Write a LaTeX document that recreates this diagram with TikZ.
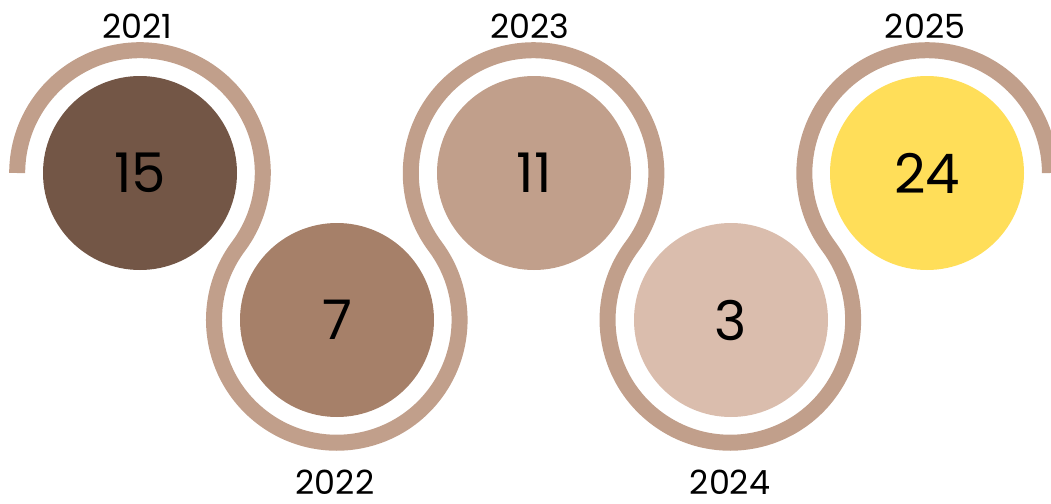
\documentclass[tikz,border=0pt]{standalone}
\usepackage{fontspec}
\setmainfont{Poppins}
\usepackage{tikz}
\usetikzlibrary{positioning,calc}

\definecolor{bandcol}{HTML}{C19F8B}
\definecolor{darkbrown}{HTML}{735646}
\definecolor{midbrown}{HTML}{A68069}
\definecolor{lightbrown}{HTML}{C19F8B}
\definecolor{sandbrown}{HTML}{DABDAD}
\definecolor{sunyellow}{HTML}{FFDE59}

\tikzset{
    disc/.style={circle, draw=none, inner sep=0pt, minimum size=145.5pt,
        font=\fontsize{41}{41}\selectfont},
    year/.style={inner sep=0pt, font=\fontsize{25}{25}\selectfont},
    band/.style={bandcol, line width=12pt, line cap=butt}
}

\begin{document}
\begin{tikzpicture}[x=0.75pt, y=0.75pt]
    \useasboundingbox (0,0) rectangle (1051,-504);

    % value circles along the wave
    \foreach \n/\x/\y/\col/\val in {1/140/-173/darkbrown/15, 2/337/-320/midbrown/7,
        3/534/-173/lightbrown/11, 4/731/-320/sandbrown/3, 5/927/-173/sunyellow/24} {
        \node[disc, fill=\col] (c\n) at (\x,\y) {\val};
    }

    % wavy band (arcs touching at the tangent points)
    \draw[band] (c1.center) ++(180:122.8)
        arc[start angle=180, end angle=-36.75, radius=122.8]
        arc[start angle=143.25, end angle=396.75, radius=122.8]
        arc[start angle=216.75, end angle=-36.75, radius=122.8]
        arc[start angle=143.25, end angle=396.75, radius=122.8]
        arc[start angle=216.75, end angle=0, radius=122.8];

    % year labels
    \node[year] (y1) at (137,-26) {2021};
    \node[year] (y2) at (335,-482) {2022};
    \node[year] (y3) at (530,-26) {2023};
    \node[year] (y4) at (730,-482) {2024};
    \node[year] (y5) at (925,-26) {2025};
\end{tikzpicture}
\end{document}
